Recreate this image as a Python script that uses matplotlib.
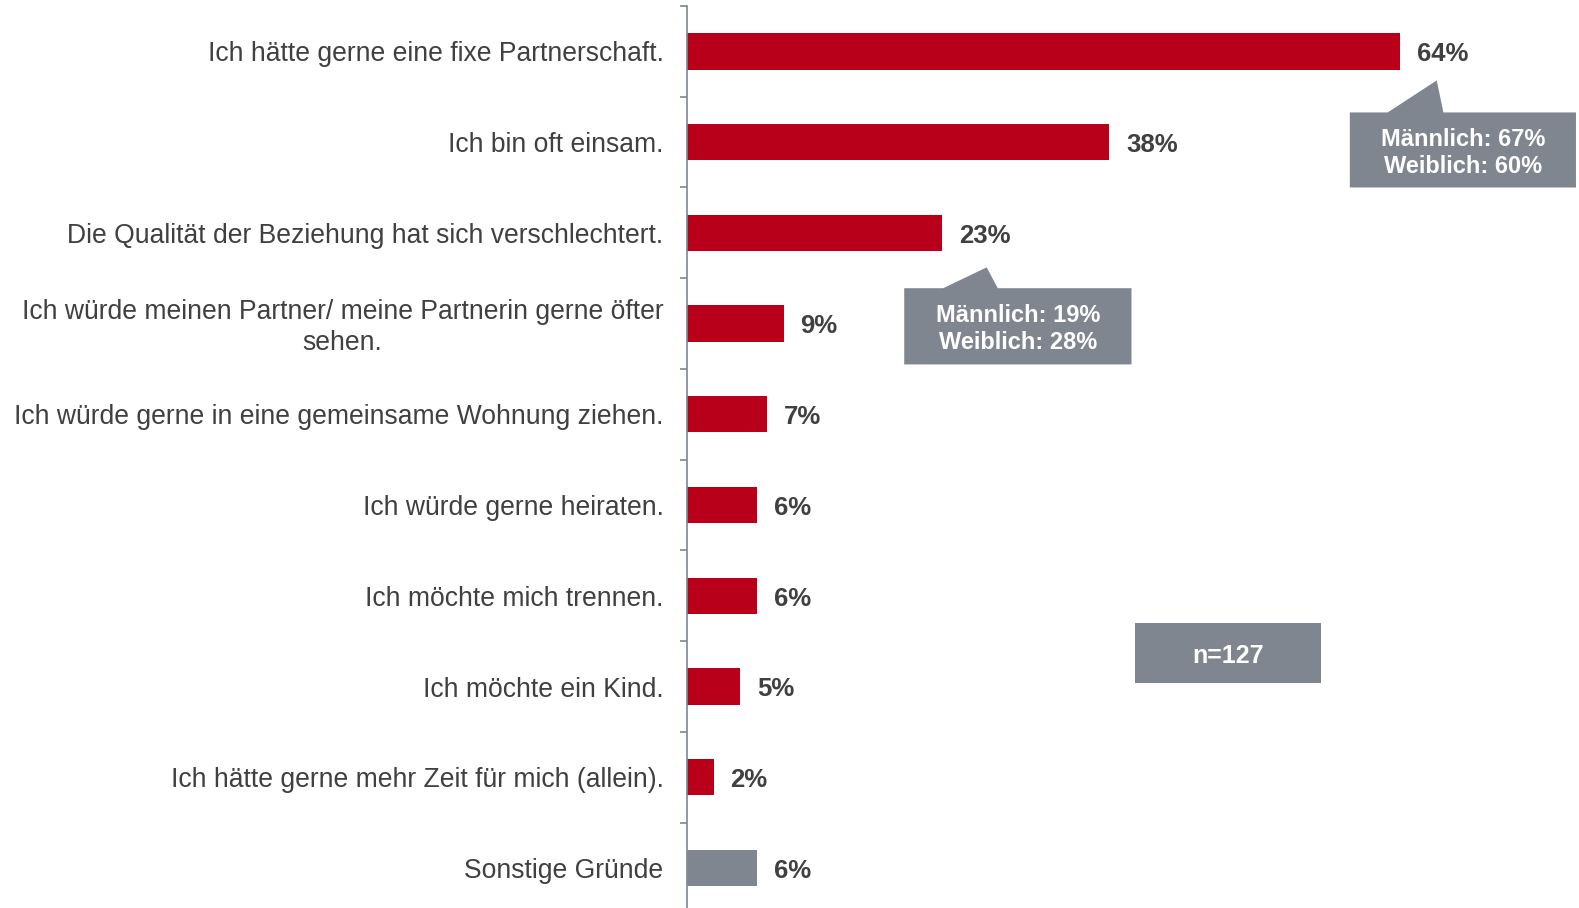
"""Gründe für den Wunsch nach Veränderung – horizontal bar chart."""

import matplotlib
matplotlib.use("Agg")
import matplotlib.pyplot as plt
from matplotlib.patches import Polygon
from matplotlib.transforms import ScaledTranslation

categories = [
    "Ich hätte gerne eine fixe Partnerschaft.",
    "Ich bin oft einsam.",
    "Die Qualität der Beziehung hat sich verschlechtert.",
    "Ich würde meinen Partner/ meine Partnerin gerne öfter\nsehen.",
    "Ich würde gerne in eine gemeinsame Wohnung ziehen.",
    "Ich würde gerne heiraten.",
    "Ich möchte mich trennen.",
    "Ich möchte ein Kind.",
    "Ich hätte gerne mehr Zeit für mich (allein).",
    "Sonstige Gründe",
]
# bar lengths (unrounded), labels as printed
values = [64.0, 37.9, 22.9, 8.7, 7.2, 6.3, 6.3, 4.8, 2.4, 6.3]
value_labels = ["64%", "38%", "23%", "9%", "7%", "6%", "6%", "5%", "2%", "6%"]
is_other = [False] * 9 + [True]

callout_top = "Männlich: 67%\nWeiblich: 60%"
callout_mid = "Männlich: 19%\nWeiblich: 28%"
sample_note = "n=127"

RED = "#B9001A"
GREY = "#7F868F"
TEXT = "#404040"

plt.rcParams["font.family"] = ["Liberation Sans", "DejaVu Sans"]

fig = plt.figure(figsize=(15.79, 9.08), dpi=100)
ax = fig.add_axes([687 / 1579, 0, 892 / 1579, 902 / 908])

pos = list(range(len(categories)))
colors = [GREY if o else RED for o in is_other]
bars = ax.barh(pos, values, height=0.4, color=colors)

for b, lab in zip(bars, value_labels):
    ax.annotate(lab, (b.get_width(), b.get_y() + b.get_height() / 2),
                xytext=(12, -2), textcoords="offset points",
                ha="left", va="center", fontsize=18.5, fontweight="bold", color=TEXT)

ax.set_xlim(0, 892 / 11.14)
ax.set_ylim(9.44, -0.5)

for s in ["top", "right", "bottom"]:
    ax.spines[s].set_visible(False)
ax.spines["left"].set_color(GREY)
ax.spines["left"].set_linewidth(1.2)
ax.set_xticks([])

ax.set_yticks(pos)
ax.set_yticklabels(categories, fontsize=19.1, color=TEXT)
ax.tick_params(axis="y", which="major", length=0, pad=17)
for lab in ax.get_yticklabels():
    lab.set_multialignment("center")
    if "\n" in lab.get_text():
        lab.set_linespacing(1.25)
        lab.set_verticalalignment("center")
        lab.set_transform(lab.get_transform()
                          + ScaledTranslation(0, -3.5 / 100, fig.dpi_scale_trans))
ax.set_yticks([p - 0.5 for p in pos], minor=True)
ax.tick_params(axis="y", which="minor", length=5, color=GREY, width=1.2)


def callout(box, tri, text_xy, text, fs):
    x0, x1, y0, y1 = box
    bx0, bx1, tx, ty = tri
    pts = [(x0, y0), (bx0, y0), (tx, ty), (bx1, y0), (x1, y0), (x1, y1), (x0, y1)]
    ax.add_patch(Polygon(pts, closed=True, facecolor=GREY, edgecolor="none", clip_on=False))
    ax.text(*text_xy, text, ha="center", va="center", fontsize=fs,
            fontweight="bold", color="white", linespacing=1.25)


callout((59.5, 79.8, 0.673, 1.50), (62.9, 67.9, 67.3, 0.32), (69.7, 1.12), callout_top, 17)
callout((19.5, 39.9, 2.61, 3.45), (23.0, 27.9, 26.9, 2.38), (29.7, 3.06), callout_mid, 17)
callout((40.2, 56.9, 6.30, 6.96), (48.0, 48.0, 48.0, 6.30), (48.6, 6.66), sample_note, 18)

fig.savefig("out.png", dpi=100)
